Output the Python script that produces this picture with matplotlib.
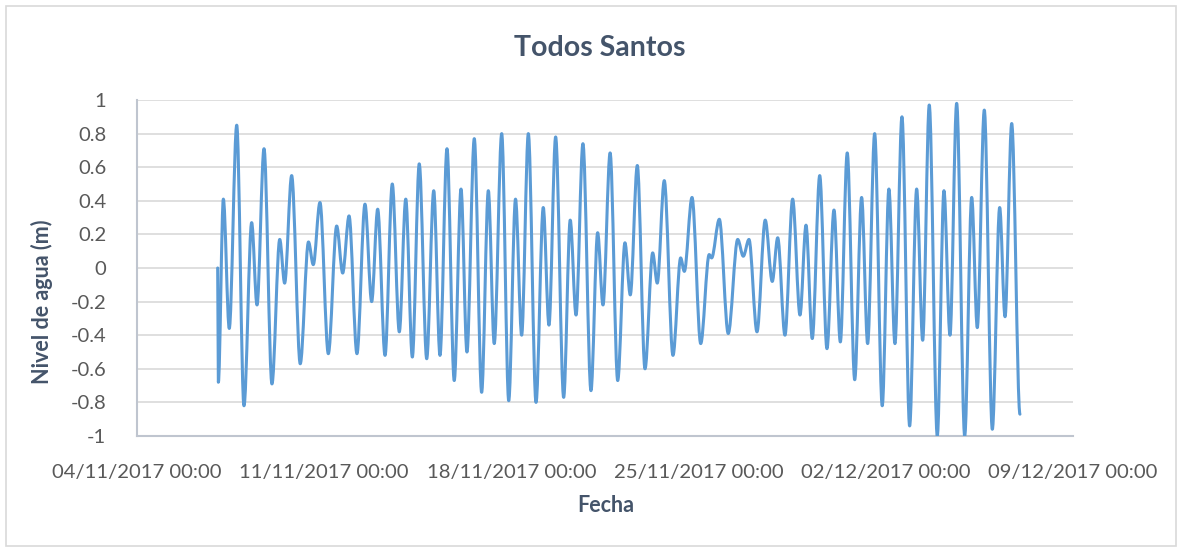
import datetime as dt
import matplotlib
matplotlib.use("Agg")
import matplotlib.pyplot as plt
import matplotlib.dates as mdates
from matplotlib.path import Path
from matplotlib.patches import PathPatch, Rectangle

# Nivel de agua: extremos (horas desde 04/11/2017 00:00)
inicio = dt.datetime(2017, 11, 4)
horas = [72.4, 73.0, 77.5, 82.8, 89.5, 96.0, 102.9, 107.7, 114.0, 121.1,
         128.1, 132.5, 138.8, 146.5, 153.9, 158.2, 164.2, 171.7, 179.2, 184.6,
         190.3, 197.4, 204.6, 210.6, 216.0, 222.6, 229.1, 235.4, 241.2, 247.1,
         253.3, 260.0, 266.3, 271.9, 278.2, 284.7, 290.8, 296.1, 302.7, 309.3,
         315.3, 320.6, 327.3, 333.6, 339.7, 345.2, 351.2, 358.1, 364.6, 369.7,
         375.7, 382.9, 388.8, 394.0, 400.2, 407.4, 413.4, 418.2, 424.6, 431.4,
         437.9, 442.7, 449.0, 455.9, 462.8, 466.9, 473.2, 481.0, 487.9, 491.2,
         498.1, 505.9, 513.5, 515.7, 522.6, 530.6, 539.1, 544.1, 549.2, 556.4,
         563.8, 570.1, 575.0, 581.5, 588.4, 595.0, 600.4, 606.0, 612.7, 619.2,
         625.5, 631.2, 637.4, 644.1, 650.3, 655.7, 662.0, 668.8, 674.8, 680.2,
         686.5, 693.4, 699.7, 705.1, 711.0, 718.2, 724.2, 729.6, 735.6, 742.8,
         749.1, 754.1, 760.4, 767.6, 774.2, 779.0, 785.0, 792.4]
nivel = [0.00, -0.68, 0.41, -0.36, 0.85, -0.82, 0.27, -0.22, 0.71, -0.69,
         0.17, -0.09, 0.55, -0.57, 0.155, 0.02, 0.39, -0.51, 0.25, -0.03,
         0.31, -0.51, 0.38, -0.20, 0.35, -0.52, 0.50, -0.38, 0.41, -0.53,
         0.62, -0.54, 0.46, -0.52, 0.71, -0.67, 0.47, -0.50, 0.77, -0.74,
         0.46, -0.45, 0.80, -0.79, 0.41, -0.40, 0.80, -0.80, 0.36, -0.34,
         0.78, -0.77, 0.285, -0.28, 0.74, -0.73, 0.21, -0.22, 0.685, -0.67,
         0.15, -0.16, 0.61, -0.60, 0.09, -0.09, 0.52, -0.52, 0.06, -0.02,
         0.42, -0.45, 0.08, 0.06, 0.29, -0.39, 0.17, 0.07, 0.17, -0.38,
         0.285, -0.08, 0.18, -0.40, 0.41, -0.28, 0.255, -0.42, 0.55, -0.48,
         0.345, -0.44, 0.685, -0.665, 0.42, -0.45, 0.80, -0.82, 0.47, -0.45,
         0.90, -0.94, 0.47, -0.43, 0.97, -1.00, 0.46, -0.40, 0.98, -1.00,
         0.42, -0.355, 0.94, -0.96, 0.36, -0.29, 0.86, -0.87]

fechas_ticks = [inicio + dt.timedelta(days=7 * i) for i in range(6)]
y_ticks = [round(-1 + 0.2 * i, 1) for i in range(11)]

azul = "#5B9BD5"
gris_txt = "#595959"
titulo_col = "#44546A"
rejilla = "#D9D9D9"
plt.rcParams["font.family"] = ["Lato", "DejaVu Sans"]

fig = plt.figure(figsize=(11.82, 5.5), dpi=100)
fig.patches.append(Rectangle((6 / 1182, 4 / 550), 1170 / 1182, 540 / 550,
                             transform=fig.transFigure, fill=False,
                             edgecolor=rejilla, lw=1.2))
ax = fig.add_axes([137 / 1182, 1 - 436 / 550, 936 / 1182, 336 / 550])

# curva suave entre extremos (como la linea suavizada de Excel)
xs = [mdates.date2num(inicio + dt.timedelta(hours=h)) for h in horas]
verts = [(xs[0], nivel[0])]
codes = [Path.MOVETO]
for i in range(1, len(xs)):
    d = xs[i] - xs[i - 1]
    verts += [(xs[i - 1] + d / 3, nivel[i - 1]), (xs[i] - d / 3, nivel[i]), (xs[i], nivel[i])]
    codes += [Path.CURVE4] * 3
ax.add_patch(PathPatch(Path(verts, codes), fill=False, edgecolor=azul, lw=2.2,
                       capstyle="round", joinstyle="round", zorder=3))

ax.set_xlim(mdates.date2num(fechas_ticks[0]), mdates.date2num(fechas_ticks[-1]))
ax.set_ylim(-1, 1)
ax.set_xticks([mdates.date2num(f) for f in fechas_ticks])
ax.set_xticklabels([f.strftime("%d/%m/%Y %H:%M") for f in fechas_ticks])
ax.set_yticks(y_ticks)
ax.set_yticklabels([f"{v:g}" for v in y_ticks])
ax.tick_params(length=0, labelsize=14.6, labelcolor=gris_txt)
ax.tick_params(axis="y", pad=22)
ax.tick_params(axis="x", pad=20)
ax.grid(axis="y", color=rejilla, lw=1.2)
ax.set_axisbelow(True)
for s in ["top", "right"]:
    ax.spines[s].set_visible(False)
for s in ["left", "bottom"]:
    ax.spines[s].set_color("#BFC5CF")
    ax.spines[s].set_linewidth(1.5)

fig.text(599.5 / 1182, 1 - 48 / 550, "Todos Santos", ha="center", va="center",
         fontsize=20.5, fontweight="bold", color=titulo_col)
fig.text(606 / 1182, 1 - 505 / 550, "Fecha", ha="center", va="center",
         fontsize=15.5, fontweight="bold", color=titulo_col)
fig.text(42 / 1182, 1 - 302 / 550, "Nivel de agua (m)", ha="center", va="center",
         rotation=90, fontsize=15.5, fontweight="bold", color=titulo_col)

fig.savefig("out.png", dpi=100)
